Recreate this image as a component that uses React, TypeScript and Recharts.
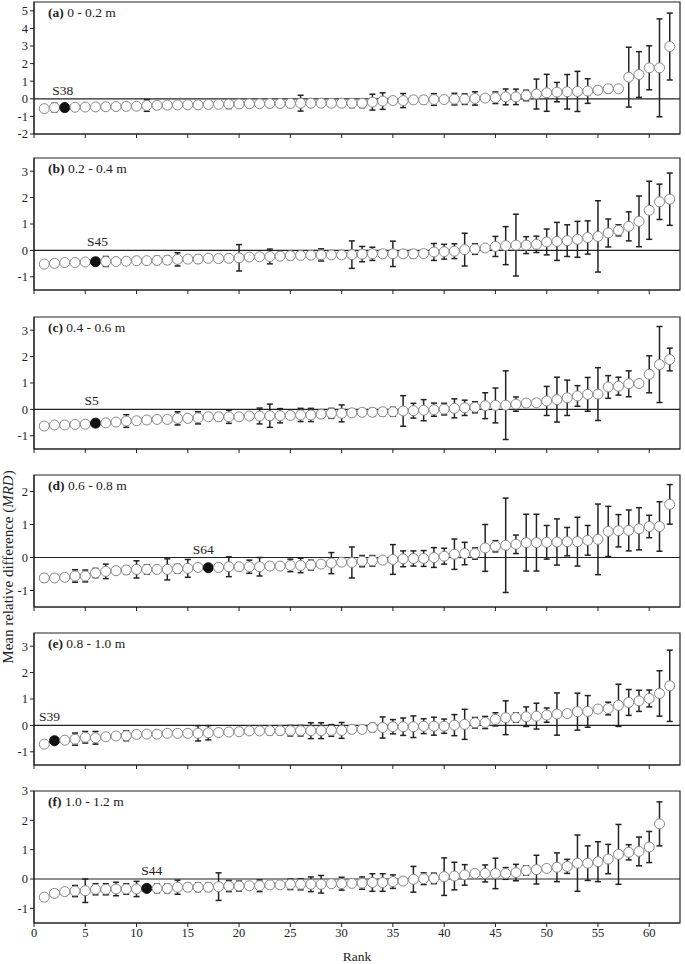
import {
  ScatterChart,
  Scatter,
  XAxis,
  YAxis,
  ErrorBar,
  ReferenceLine,
  ReferenceArea,
} from 'recharts';

// mean relative difference and its standard deviation, by rank
const meanA = [
  -0.56, -0.5, -0.5, -0.48, -0.47, -0.46, -0.45, -0.44, -0.43, -0.42,
  -0.38, -0.37, -0.36, -0.35, -0.34, -0.34, -0.32, -0.31, -0.3, -0.29,
  -0.28, -0.28, -0.27, -0.27, -0.26, -0.25, -0.25, -0.25, -0.25, -0.25,
  -0.25, -0.25, -0.19, -0.13, -0.1, -0.1, -0.06, -0.06, -0.04, -0.04,
  -0.02, -0.02, 0.02, 0.04, 0.06, 0.11, 0.11, 0.19, 0.27, 0.34,
  0.38, 0.4, 0.42, 0.44, 0.49, 0.57, 0.57, 1.23, 1.38, 1.76,
  1.76, 2.97,
];
const errA = [
  0.12, 0.25, 0.1, 0.12, 0.12, 0.12, 0.18, 0.15, 0.15, 0.15,
  0.33, 0.2, 0.15, 0.15, 0.15, 0.12, 0.15, 0.15, 0.25, 0.2,
  0.2, 0.2, 0.2, 0.2, 0.2, 0.45, 0.15, 0.15, 0.15, 0.15,
  0.25, 0.25, 0.45, 0.47, 0.2, 0.4, 0.2, 0.22, 0.33, 0.16,
  0.33, 0.3, 0.38, 0.15, 0.33, 0.45, 0.44, 0.3, 0.85, 1.05,
  0.55, 0.98, 1.14, 0.7, 0.22, 0.22, 0.12, 1.7, 1.3, 1.25,
  2.78, 1.9,
];

const meanB = [
  -0.52, -0.49, -0.46, -0.46, -0.44, -0.43, -0.42, -0.42, -0.41, -0.39,
  -0.39, -0.38, -0.37, -0.34, -0.33, -0.33, -0.3, -0.31, -0.3, -0.28,
  -0.25, -0.24, -0.23, -0.22, -0.2, -0.19, -0.18, -0.17, -0.17, -0.17,
  -0.16, -0.14, -0.13, -0.13, -0.13, -0.13, -0.13, -0.12, -0.06, -0.05,
  -0.03, 0.03, 0.05, 0.09, 0.15, 0.18, 0.2, 0.2, 0.23, 0.32,
  0.34, 0.37, 0.42, 0.49, 0.53, 0.66, 0.76, 0.91, 1.1, 1.52,
  1.84, 1.94,
];
const errB = [
  0.1, 0.1, 0.08, 0.08, 0.08, 0.05, 0.19, 0.12, 0.12, 0.12,
  0.1, 0.15, 0.15, 0.25, 0.1, 0.15, 0.08, 0.12, 0.12, 0.5,
  0.1, 0.1, 0.28, 0.12, 0.15, 0.12, 0.12, 0.23, 0.1, 0.12,
  0.52, 0.29, 0.25, 0.1, 0.48, 0.1, 0.15, 0.1, 0.32, 0.28,
  0.28, 0.62, 0.2, 0.1, 0.38, 0.72, 1.17, 0.32, 0.31, 0.49,
  0.72, 0.6, 0.68, 0.63, 1.35, 0.53, 0.21, 0.55, 0.96, 1.1,
  0.67, 0.99,
];

const meanC = [
  -0.63, -0.59, -0.59, -0.57, -0.56, -0.52, -0.51, -0.48, -0.44, -0.43,
  -0.4, -0.38, -0.38, -0.34, -0.34, -0.32, -0.28, -0.28, -0.28, -0.28,
  -0.25, -0.25, -0.24, -0.24, -0.23, -0.21, -0.21, -0.18, -0.15, -0.15,
  -0.13, -0.11, -0.11, -0.09, -0.09, -0.06, -0.05, -0.03, -0.01, 0.01,
  0.04, 0.06, 0.08, 0.14, 0.15, 0.16, 0.2, 0.24, 0.25, 0.32,
  0.37, 0.44, 0.51, 0.57, 0.58, 0.85, 0.88, 0.97, 0.98, 1.33,
  1.7, 1.89,
];
const errC = [
  0.1, 0.12, 0.1, 0.1, 0.1, 0.08, 0.1, 0.1, 0.24, 0.1,
  0.1, 0.1, 0.12, 0.25, 0.12, 0.23, 0.12, 0.15, 0.25, 0.1,
  0.1, 0.3, 0.44, 0.27, 0.12, 0.25, 0.25, 0.15, 0.19, 0.32,
  0.12, 0.12, 0.15, 0.15, 0.17, 0.58, 0.28, 0.4, 0.25, 0.22,
  0.36, 0.29, 0.21, 0.49, 0.66, 1.3, 0.27, 0.13, 0.12, 0.55,
  0.85, 0.67, 0.39, 0.64, 1.0, 0.43, 0.34, 0.49, 0.1, 0.7,
  1.44, 0.43,
];

const meanD = [
  -0.62, -0.62, -0.6, -0.56, -0.56, -0.47, -0.42, -0.4, -0.38, -0.36,
  -0.36, -0.36, -0.36, -0.34, -0.33, -0.3, -0.31, -0.3, -0.28, -0.28,
  -0.28, -0.28, -0.26, -0.26, -0.24, -0.24, -0.23, -0.2, -0.17, -0.14,
  -0.15, -0.11, -0.1, -0.08, -0.06, -0.04, -0.03, -0.03, 0.0, 0.04,
  0.1, 0.12, 0.12, 0.29, 0.34, 0.37, 0.4, 0.45, 0.45, 0.46,
  0.47, 0.48, 0.48, 0.52, 0.55, 0.79, 0.81, 0.82, 0.87, 0.94,
  0.94, 1.61,
];
const errD = [
  0.12, 0.08, 0.1, 0.19, 0.18, 0.14, 0.22, 0.08, 0.12, 0.26,
  0.14, 0.08, 0.32, 0.13, 0.27, 0.07, 0.06, 0.1, 0.3, 0.11,
  0.2, 0.28, 0.06, 0.08, 0.19, 0.22, 0.15, 0.08, 0.32, 0.1,
  0.47, 0.17, 0.16, 0.08, 0.45, 0.24, 0.23, 0.24, 0.3, 0.24,
  0.46, 0.34, 0.17, 0.71, 0.17, 1.43, 0.28, 0.86, 0.86, 0.51,
  0.7, 0.43, 0.74, 0.45, 1.07, 0.76, 0.49, 0.62, 0.64, 0.34,
  0.75, 0.6,
];

const meanE = [
  -0.71, -0.58, -0.56, -0.52, -0.45, -0.47, -0.43, -0.4, -0.39, -0.34,
  -0.33, -0.33, -0.3, -0.3, -0.3, -0.3, -0.28, -0.27, -0.25, -0.24,
  -0.21, -0.21, -0.2, -0.2, -0.2, -0.2, -0.2, -0.2, -0.19, -0.19,
  -0.15, -0.15, -0.08, -0.08, -0.05, -0.05, -0.05, -0.03, -0.03, -0.03,
  0.01, 0.04, 0.1, 0.11, 0.23, 0.29, 0.3, 0.33, 0.35, 0.39,
  0.43, 0.45, 0.52, 0.53, 0.62, 0.64, 0.76, 0.87, 0.93, 1.02,
  1.21, 1.5,
];
const errE = [
  0.1, 0.06, 0.1, 0.23, 0.22, 0.24, 0.12, 0.12, 0.19, 0.1,
  0.12, 0.12, 0.1, 0.1, 0.12, 0.29, 0.27, 0.12, 0.08, 0.06,
  0.1, 0.12, 0.15, 0.15, 0.2, 0.2, 0.3, 0.3, 0.22, 0.3,
  0.12, 0.06, 0.16, 0.4, 0.27, 0.33, 0.41, 0.28, 0.34, 0.27,
  0.4, 0.57, 0.2, 0.23, 0.25, 0.64, 0.18, 0.37, 0.49, 0.27,
  0.8, 0.1, 0.7, 0.6, 0.08, 0.24, 0.8, 0.49, 0.4, 0.32,
  0.86, 1.35,
];

const meanF = [
  -0.62, -0.49, -0.43, -0.41, -0.4, -0.35, -0.35, -0.34, -0.34, -0.34,
  -0.32, -0.32, -0.32, -0.28, -0.28, -0.28, -0.28, -0.26, -0.24, -0.24,
  -0.23, -0.23, -0.2, -0.2, -0.18, -0.18, -0.18, -0.18, -0.16, -0.16,
  -0.15, -0.14, -0.12, -0.12, -0.09, -0.07, -0.01, 0.01, 0.02, 0.08,
  0.1, 0.14, 0.19, 0.19, 0.19, 0.19, 0.22, 0.29, 0.32, 0.36,
  0.4, 0.43, 0.54, 0.54, 0.59, 0.68, 0.84, 0.91, 0.94, 1.09,
  1.88,
];
const errF = [
  0.12, 0.1, 0.08, 0.19, 0.4, 0.19, 0.19, 0.23, 0.18, 0.26,
  0.07, 0.15, 0.15, 0.24, 0.13, 0.15, 0.14, 0.47, 0.19, 0.17,
  0.1, 0.2, 0.1, 0.08, 0.18, 0.19, 0.25, 0.3, 0.1, 0.22,
  0.08, 0.21, 0.3, 0.3, 0.23, 0.08, 0.44, 0.2, 0.18, 0.64,
  0.47, 0.35, 0.12, 0.29, 0.52, 0.2, 0.28, 0.16, 0.49, 0.11,
  0.49, 0.24, 0.96, 0.59, 0.68, 0.5, 1.02, 0.26, 0.49, 0.53,
  0.75,
];

const rankTicks = [0, 5, 10, 15, 20, 25, 30, 35, 40, 45, 50, 55, 60];

const FONT = '"Liberation Serif", "Times New Roman", serif';
const INK = '#222';

const panels = [
  { tag: '(a)', depth: '0 - 0.2 m', mean: meanA, err: errA, station: 'S38', stationRank: 3, labelDx: -2, top: 2, domain: [-2, 5.5], ticks: [-2, -1, 0, 1, 2, 3, 4, 5] },
  { tag: '(b)', depth: '0.2 - 0.4 m', mean: meanB, err: errB, station: 'S45', stationRank: 6, labelDx: 2, top: 158, domain: [-1.5, 3.5], ticks: [-1, 0, 1, 2, 3] },
  { tag: '(c)', depth: '0.4 - 0.6 m', mean: meanC, err: errC, station: 'S5', stationRank: 6, labelDx: -4, top: 317, domain: [-1.5, 3.5], ticks: [-1, 0, 1, 2, 3] },
  { tag: '(d)', depth: '0.6 - 0.8 m', mean: meanD, err: errD, station: 'S64', stationRank: 17, labelDx: -5, top: 475, domain: [-1.5, 2.5], ticks: [-1, 0, 1, 2] },
  { tag: '(e)', depth: '0.8 - 1.0 m', mean: meanE, err: errE, station: 'S39', stationRank: 2, labelDx: -5, top: 633, domain: [-1.5, 3.5], ticks: [-1, 0, 1, 2, 3] },
  { tag: '(f)', depth: '1.0 - 1.2 m', mean: meanF, err: errF, station: 'S44', stationRank: 11, labelDx: 5, top: 791, domain: [-1.5, 3], ticks: [-1, 0, 1, 2, 3] },
];

const PLOT_H = 132;
const M_TOP = 8;
const X_H = 22;

function Panel({ p, bottom }: { p: (typeof panels)[number]; bottom: boolean }) {
  const rows = p.mean.map((m, i) => ({ rank: i + 1, mrd: m, err: p.err[i] }));
  const marker = [{ rank: p.stationRank, mrd: 0 }];

  return (
    <div style={{ position: 'absolute', left: 0, top: p.top - M_TOP }}>
      <ScatterChart
        width={685}
        height={M_TOP + PLOT_H + X_H}
        margin={{ top: M_TOP, right: 5, left: 0, bottom: 0 }}
      >
        <XAxis
          type="number"
          dataKey="rank"
          domain={[0, 63]}
          ticks={rankTicks}
          interval={0}
          allowDataOverflow
          height={X_H}
          tickSize={4}
          tickMargin={1}
          stroke={INK}
          tick={{ fontSize: 12.5, fill: INK, fontFamily: FONT }}
          tickFormatter={(v: number) => (bottom ? String(v) : '')}
        />
        <YAxis
          type="number"
          dataKey="mrd"
          domain={p.domain}
          ticks={p.ticks}
          interval={0}
          allowDataOverflow
          width={34}
          tickSize={4}
          tickMargin={2}
          stroke={INK}
          tick={{ fontSize: 12.5, fill: INK, fontFamily: FONT }}
        />
        <ReferenceArea
          x1={0}
          x2={63}
          y1={p.domain[0]}
          y2={p.domain[1]}
          fill="none"
          stroke={INK}
          strokeWidth={1.2}
          ifOverflow="visible"
        />
        <ReferenceLine y={0} stroke={INK} strokeWidth={1.2} />
        <Scatter
          data={rows}
          isAnimationActive={false}
          shape={(s: any) => (
            <circle
              cx={s.cx}
              cy={s.cy}
              r={5}
              fill={s.payload.rank === p.stationRank ? '#111' : '#fff'}
              stroke={s.payload.rank === p.stationRank ? '#111' : '#888'}
              strokeWidth={1}
            />
          )}
        >
          <ErrorBar
            dataKey="err"
            direction="y"
            width={3}
            stroke={INK}
            strokeWidth={1.5}
            isAnimationActive={false}
          />
        </Scatter>
        <Scatter
          data={marker}
          isAnimationActive={false}
          shape={(s: any) => (
            <text
              x={s.cx + p.labelDx}
              y={s.cy - 4}
              textAnchor="middle"
              fontSize={13.5}
              fontFamily={FONT}
              fill={INK}
            >
              {p.station}
            </text>
          )}
        />
      </ScatterChart>
    </div>
  );
}

export default function App() {
  return (
    <div
      style={{
        position: 'absolute',
        left: 0,
        top: 0,
        width: 685,
        height: 964,
        background: '#fff',
        fontFamily: FONT,
        overflow: 'hidden',
      }}
    >
      {panels.map((p, i) => (
        <Panel key={p.tag} p={p} bottom={i === panels.length - 1} />
      ))}
      <svg
        width={685}
        height={964}
        style={{ position: 'absolute', left: 0, top: 0, pointerEvents: 'none' }}
      >
        {panels.map((p) => (
          <text key={p.tag} x={48} y={p.top + 15} fontSize={13.5} fontFamily={FONT} fill={INK}>
            <tspan fontWeight="bold">{p.tag}</tspan>
            <tspan> {p.depth}</tspan>
          </text>
        ))}
        <text
          transform="translate(13, 567) rotate(-90)"
          textAnchor="middle"
          fontSize={15}
          fontFamily={FONT}
          fill={INK}
        >
          Mean relative difference (<tspan fontStyle="italic">MRD</tspan>)
        </text>
        <text x={357} y={961} textAnchor="middle" fontSize={13.5} fontFamily={FONT} fill={INK}>
          Rank
        </text>
      </svg>
    </div>
  );
}
